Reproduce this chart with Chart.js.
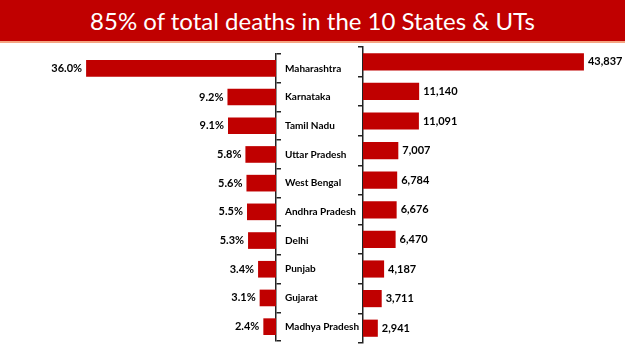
<!DOCTYPE html>
<html>
<head>
<meta charset="utf-8">
<script src="https://cdn.jsdelivr.net/npm/chart.js@4"></script>
<style>
    body { margin: 0; width: 625px; height: 351px; background: #fff; overflow: hidden; position: relative; }
    #banner {
        position: absolute; left: 0; top: 0; width: 625px; height: 41px;
        background: #c00000; border-bottom: 2px solid #f4a582;
        color: #fff; font-family: Lato, "Open Sans", sans-serif; font-size: 24px;
        text-align: center; line-height: 41px;
    }
    #left { position: absolute; left: 0; top: 44px; }
    #right { position: absolute; left: 355px; top: 44px; }
</style>
</head>
<body>
<div id="banner">85% of total deaths in the 10 States &amp; UTs</div>
<canvas id="left" width="363" height="307"></canvas>
<canvas id="right" width="270" height="307"></canvas>
<script>
// states, top to bottom
const states = ["Maharashtra", "Karnataka", "Tamil Nadu", "Uttar Pradesh", "West Bengal",
    "Andhra Pradesh", "Delhi", "Punjab", "Gujarat", "Madhya Pradesh"];
// share of total deaths (%)
const sharePct = [36.0, 9.2, 9.1, 5.8, 5.6, 5.5, 5.3, 3.4, 3.1, 2.4];
// deaths
const deaths = [43837, 11140, 11091, 7007, 6784, 6676, 6470, 4187, 3711, 2941];

const RED = '#c00000';
const labelFont = { family: 'Lato', size: 10, weight: 'bold' };

// draws the value next to each bar end
const valueLabels = {
    id: 'valueLabels',
    afterDatasetsDraw(chart, args, opts) {
        const ctx = chart.ctx;
        const meta = chart.getDatasetMeta(0);
        ctx.save();
        ctx.font = 'bold 11px Lato';
        ctx.fillStyle = '#000';
        ctx.textBaseline = 'middle';
        meta.data.forEach((bar, i) => {
            const text = opts.format(chart.data.datasets[0].data[i]);
            if (opts.side === 'left') {
                ctx.textAlign = 'right';
                ctx.fillText(text, bar.x - 4, bar.y);
            } else {
                ctx.textAlign = 'left';
                ctx.fillText(text, bar.x + 4, bar.y);
            }
        });
        ctx.restore();
    }
};

new Chart(document.getElementById('left'), {
    type: 'bar',
    data: { labels: states, datasets: [{ data: sharePct, backgroundColor: RED,
        barPercentage: 0.58, categoryPercentage: 1 }] },
    options: {
        responsive: false,
        animation: false,
        indexAxis: 'y',
        layout: { padding: { left: 65, top: 3, bottom: 8, right: 0 } },
        plugins: {
            legend: { display: false },
            tooltip: { enabled: false },
            valueLabels: { side: 'left', format: v => v.toFixed(1) + '%' }
        },
        scales: {
            x: { display: false, reverse: true, min: 0, max: 40 },
            y: {
                position: 'right',
                afterFit: s => { s.width = 87; },
                border: { display: true, color: '#222', width: 1.5 },
                grid: { offset: true, drawOnChartArea: false, tickLength: 5, color: '#222', lineWidth: 1.5 },
                ticks: { color: '#000', font: labelFont, padding: 4 }
            }
        }
    },
    plugins: [valueLabels]
});

new Chart(document.getElementById('right'), {
    type: 'bar',
    data: { labels: states, datasets: [{ data: deaths, backgroundColor: RED,
        barPercentage: 0.58, categoryPercentage: 1 }] },
    options: {
        responsive: false,
        animation: false,
        indexAxis: 'y',
        layout: { padding: { left: 0, top: 3, bottom: 8, right: 10 } },
        plugins: {
            legend: { display: false },
            tooltip: { enabled: false },
            valueLabels: { side: 'right', format: v => v.toLocaleString('en-US') }
        },
        scales: {
            x: { display: false, min: 0, max: 50000 },
            y: {
                position: 'left',
                afterFit: s => { s.width = 8; },
                border: { display: true, color: '#222', width: 1.5 },
                grid: { offset: true, drawOnChartArea: false, tickLength: 5, color: '#222', lineWidth: 1.5 },
                ticks: { display: false }
            }
        }
    },
    plugins: [valueLabels]
});
</script>
</body>
</html>
